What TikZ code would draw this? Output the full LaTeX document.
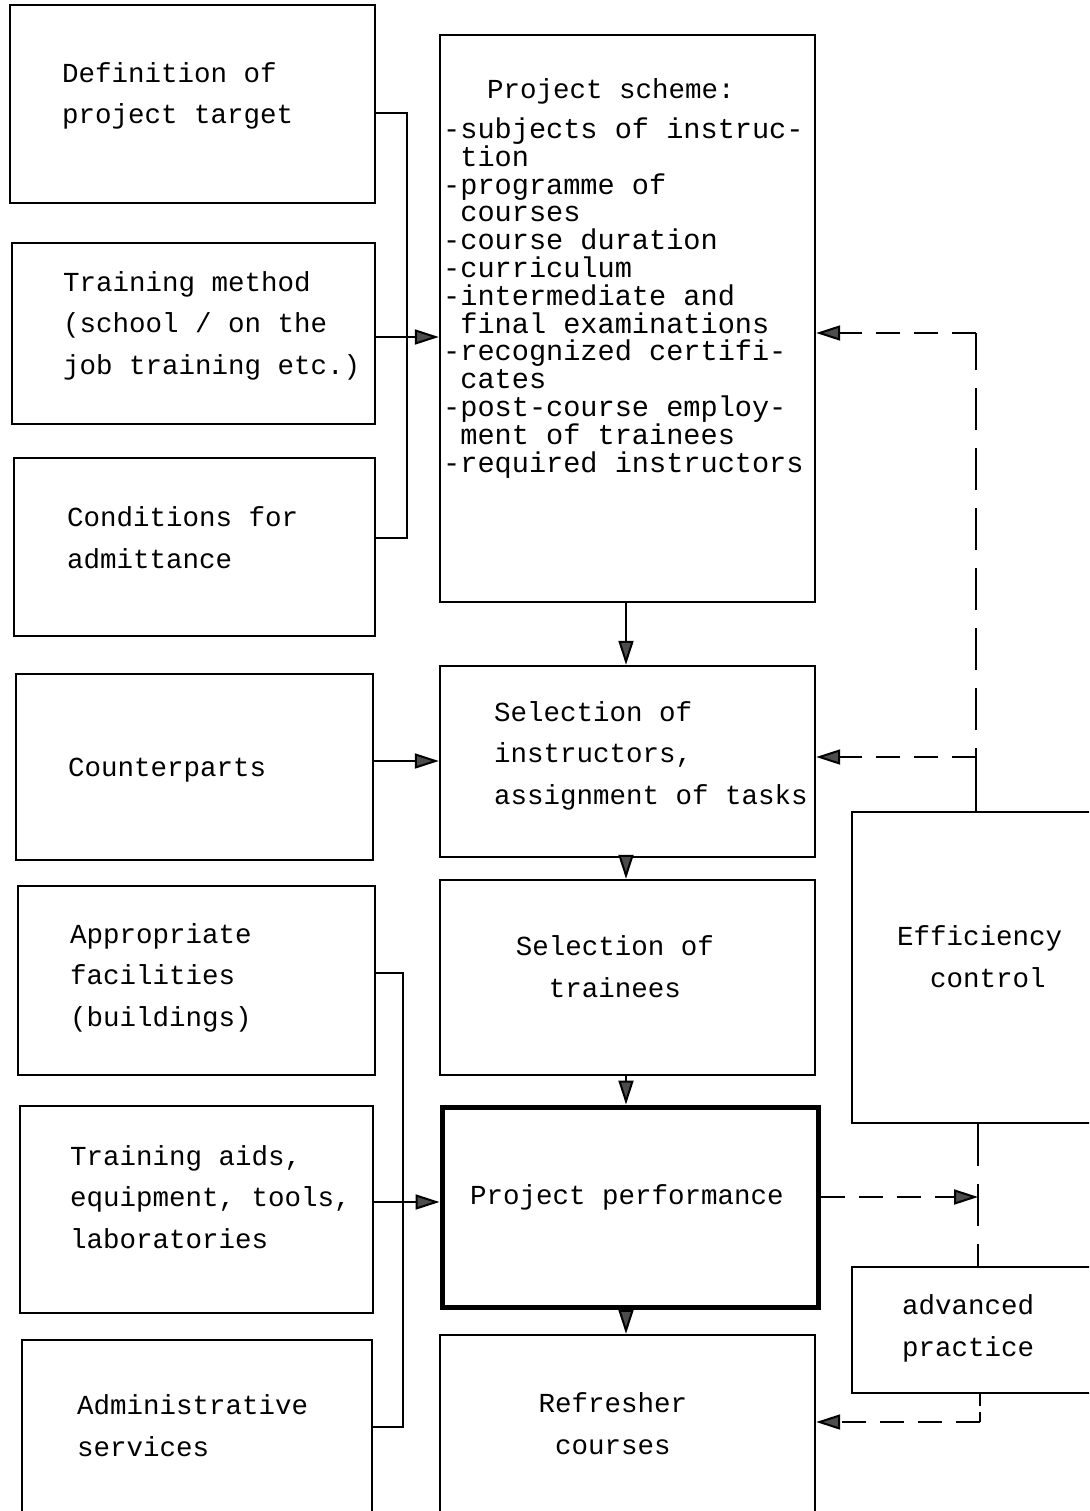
\documentclass[tikz,border=0pt]{standalone}
\usepackage{fontspec}
\setmonofont{Liberation Mono}
\usetikzlibrary{arrows.meta,fit}
\begin{document}
\begin{tikzpicture}[x=1pt,y=-1pt,
  box/.style={draw, line width=2.4pt, inner sep=0pt, rectangle},
  heavybox/.style={box, line width=5pt},
  txt/.style={font=\ttfamily\fontsize{27.5}{41.5}\selectfont, align=left, inner sep=0pt, anchor=base west},
  lst/.style={txt, font=\ttfamily\fontsize{28.6}{27.8}\selectfont},
  conn/.style={line width=2pt},
  tip/.style={-{Triangle[length=24pt,width=15pt,fill=black!70]}},
  arr/.style={conn, tip},
  dline/.style={line width=2pt, dash pattern=on 24pt off 14pt},
  vdline/.style={line width=2pt, dash pattern=on 42pt off 18pt},
  darr/.style={dline, tip}
]
\useasboundingbox (0,0) rectangle (1089,1511);
\clip (0,0) rectangle (1089,1511);

% left column: inputs
\node[box, fit={(10,5) (375,203)}] (def) {};
\node[box, fit={(12,243) (375,424)}] (method) {};
\node[box, fit={(14,458) (375,636)}] (cond) {};
\node[box, fit={(16,674) (373,860)}] (counter) {};
\node[box, fit={(18,886) (375,1075)}] (facil) {};
\node[box, fit={(20,1106) (373,1313)}] (aids) {};
\node[box, fit={(22,1340) (372,1530)}] (admin) {};

% middle column: main sequence
\node[box, fit={(440,35) (815,602)}] (scheme) {};
\node[box, fit={(440,666) (815,857)}] (instr) {};
\node[box, fit={(440,880) (815,1075)}] (trainees) {};
\node[heavybox, fit={(442,1107) (818,1307)}] (perf) {};
\node[box, fit={(440,1335) (815,1530)}] (refr) {};

% right column: control loop
\node[box, fit={(852,812) (1110,1123)}] (eff) {};
\node[box, fit={(852,1267) (1110,1393)}] (adv) {};

% texts (anchored at the baseline of their last line)
\node[txt] (tdef) at (62,124) {Definition of\\project target};
\node[txt] (tmethod) at (63,374) {Training method\\(school / on the\\job training etc.)};
\node[txt] (tcond) at (67,568) {Conditions for\\admittance};
\node[txt] (tcounter) at (68,776) {Counterparts};
\node[txt] (tfacil) at (70,1026) {Appropriate\\facilities\\(buildings)};
\node[txt] (taids) at (70,1248) {Training aids,\\equipment, tools,\\laboratories};
\node[txt] (tadmin) at (77,1456) {Administrative\\services};

\node[txt] (tscheme) at (487,99) {Project scheme:};
\node[lst] (tlist) at (443,472) {-subjects of instruc-\\\hphantom{-}tion\\-programme of\\\hphantom{-}courses\\-course duration\\-curriculum\\-intermediate and\\\hphantom{-}final examinations\\-recognized certifi-\\\hphantom{-}cates\\-post-course employ-\\\hphantom{-}ment of trainees\\-required instructors};
\node[txt] (tinstr) at (494,804) {Selection of\\instructors,\\assignment of tasks};
\node[txt, anchor=base, align=center] (ttrainees) at (615,997) {Selection of\\trainees};
\node[txt] (tperf) at (470,1204) {Project performance};
\node[txt, anchor=base, align=center] (trefr) at (613,1454) {Refresher\\courses};
\node[txt] (teff) at (897,987) {Efficiency\\\hphantom{--}control};
\node[txt] (tadv) at (902,1356) {advanced\\practice};

% input brackets
\draw[conn] (def.east |- 0,113) -| (407,538) -- (cond.east |- 0,538);
\draw[arr] (method.east |- 0,337) -- (scheme.west |- 0,337);
\draw[arr] (counter.east |- 0,761) -- (instr.west |- 0,761);
\draw[conn] (facil.east |- 0,973) -| (403,1427) -- (admin.east |- 0,1427);
\draw[arr] (aids.east |- 0,1202) -- (perf.west |- 0,1202);

% main sequence
\draw[arr] (scheme.south -| 626,0) -- (instr.north -| 626,0);
\draw[arr] (instr.south -| 626,0) -- (trainees.north -| 626,0);
\draw[arr] (trainees.south -| 626,0) -- (perf.north -| 626,0);
\draw[arr] (perf.south -| 626,0) -- (refr.north -| 626,0);

% feedback loop
\coordinate (corner) at (976,333);
\coordinate (tap) at (976,757);
\draw[conn] (eff.north -| 976,0) -- (976,790);
\draw[vdline] (976,790) -- (corner);
\draw[darr] (corner) -- (scheme.east |- corner);
\draw[darr] (tap) -- (instr.east |- tap);
\draw[vdline] (eff.south -| 978,0) -- (adv.north -| 978,0);
\coordinate (meet) at (978,1197);
\draw[darr] (perf.east |- meet) -- (meet);
\coordinate (low) at (980,1422);
\draw[conn, dash pattern=on 12pt off 6pt] (adv.south -| low) -- (low);
\draw[darr] (low) -- (refr.east |- low);
\end{tikzpicture}
\end{document}
